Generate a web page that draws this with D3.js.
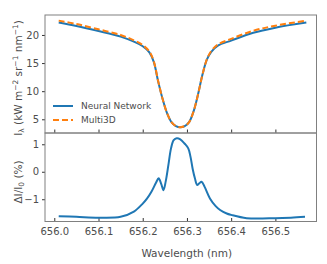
<!DOCTYPE html>
<html>
<head>
<meta charset="utf-8">
<script src="https://cdn.jsdelivr.net/npm/d3@7"></script>
<style>
  body { margin: 0; background: #fff; }
  text { font-family: "DejaVu Sans", sans-serif; fill: #4d4d4d; }
</style>
</head>
<body>
<div class="chart"></div>
<script>
// wavelength grid (nm) for the intensity profiles
var wlProfile = [656.01, 656.05, 656.10, 656.15, 656.18, 656.20, 656.215, 656.225, 656.235, 656.245,
                 656.255, 656.265, 656.275, 656.285, 656.295, 656.305, 656.315, 656.325, 656.335, 656.345,
                 656.355, 656.37, 656.40, 656.45, 656.50, 656.57];
var neuralNet = [22.2, 21.6, 20.7, 19.7, 18.8, 18.0, 16.9, 15.2, 11.7, 8.6,
                 6.1, 4.5, 3.8, 3.6, 3.8, 4.5, 6.4, 9.4, 12.9, 15.6,
                 17.0, 18.1, 19.0, 20.4, 21.3, 22.2];
var multi3d   = [22.55, 21.95, 21.0, 20.0, 19.05, 18.2, 17.05, 15.3, 11.75, 8.6,
                 6.1, 4.5, 3.8, 3.6, 3.8, 4.5, 6.4, 9.4, 12.9, 15.65,
                 17.15, 18.3, 19.3, 20.75, 21.65, 22.55];

// relative difference (%) on its own grid
var wlDiff = [656.01, 656.05, 656.10, 656.15, 656.18, 656.20, 656.21, 656.22, 656.23, 656.236,
              656.242, 656.247, 656.252, 656.258, 656.264, 656.27, 656.277, 656.285, 656.295, 656.303,
              656.308, 656.313, 656.318, 656.323, 656.328, 656.333, 656.34, 656.352, 656.365, 656.375,
              656.39, 656.40, 656.435, 656.50, 656.535, 656.567];
var relDiff = [-1.62, -1.64, -1.67, -1.64, -1.45, -1.16, -0.97, -0.72, -0.40, -0.24,
               -0.45, -0.67, -0.35, 0.24, 0.85, 1.15, 1.22, 1.18, 1.02, 0.85,
               0.55, 0.10, -0.24, -0.48, -0.42, -0.36, -0.55, -0.97, -1.25, -1.39,
               -1.52, -1.57, -1.69, -1.69, -1.67, -1.64];

var xTicks = [656.0, 656.1, 656.2, 656.3, 656.4, 656.5];
var topTicks = [5, 10, 15, 20];
var botTicks = [-1, 0, 1];
var seriesNames = ["Neural Network", "Multi3D"];

var W = 327, H = 264;
var left = 45, right = 316.5, top1 = 15, mid = 133, bot2 = 221.5;
var blue = "#1f77b4", orange = "#ff7f0e", spine = "#808080";

var svg = d3.select(".chart").append("svg")
            .attr("width", W)
            .attr("height", H);

var x = d3.scaleLinear().domain([655.979, 656.593]).range([left, right]);
var yTop = d3.scaleLinear().domain([2.56, 23.55]).range([mid, top1]);
var yBot = d3.scaleLinear().domain([-1.81, 1.41]).range([bot2, mid]);

function drawAxes(y, yt, y0, y1, showLabels) {
  var gx = svg.append("g")
     .attr("transform", "translate(0," + y0 + ")")
     .call(d3.axisBottom(x).tickValues(xTicks).tickSizeInner(-3.5).tickSizeOuter(0)
             .tickFormat(showLabels ? d3.format(".1f") : ""));
  gx.select(".domain").remove();
  gx.selectAll(".tick line").attr("stroke", "#333");
  gx.selectAll(".tick text").attr("dy", "1.05em").style("font-size", "10px").attr("fill", "#4d4d4d");

  var gy = svg.append("g")
     .attr("transform", "translate(" + left + ",0)")
     .call(d3.axisLeft(y).tickValues(yt).tickSizeInner(3).tickSizeOuter(0)
             .tickFormat(function(d) { return d < 0 ? "\u2212" + Math.abs(d) : d; }));
  gy.select(".domain").remove();
  gy.selectAll(".tick line").attr("stroke", "#333");
  gy.selectAll(".tick text").style("font-size", "10px").attr("fill", "#4d4d4d");

  svg.append("rect")
     .attr("x", left).attr("y", y1)
     .attr("width", right - left).attr("height", y0 - y1)
     .attr("fill", "none").attr("stroke", spine).attr("stroke-width", 1);
}

drawAxes(yTop, topTicks, mid, top1, false);
drawAxes(yBot, botTicks, bot2, mid, true);

var lineTop = function(vals) {
  return d3.line().curve(d3.curveCatmullRom.alpha(0.5))
           .x(function(d, i) { return x(wlProfile[i]); })
           .y(function(d) { return yTop(d); })(vals);
};

svg.append("path")
   .attr("d", lineTop(neuralNet))
   .attr("fill", "none").attr("stroke", blue).attr("stroke-width", 2);

svg.append("path")
   .attr("d", lineTop(multi3d))
   .attr("fill", "none").attr("stroke", orange).attr("stroke-width", 2)
   .attr("stroke-dasharray", "6,3");

svg.append("path")
   .attr("d", d3.line().curve(d3.curveCatmullRom.alpha(0.5))
                .x(function(d, i) { return x(wlDiff[i]); })
                .y(function(d) { return yBot(d); })(relDiff))
   .attr("fill", "none").attr("stroke", blue).attr("stroke-width", 2);

// legend
var legend = svg.append("g").attr("transform", "translate(53,106)");
seriesNames.forEach(function(name, i) {
  legend.append("line")
        .attr("x1", 0).attr("x2", 20).attr("y1", i * 14).attr("y2", i * 14)
        .attr("stroke", i === 0 ? blue : orange).attr("stroke-width", 2)
        .attr("stroke-dasharray", i === 0 ? null : "6,3");
  legend.append("text")
        .attr("x", 28).attr("y", i * 14).attr("dy", "0.35em")
        .style("font-size", "9px").text(name);
});

// axis labels
svg.append("text")
   .attr("x", (left + right) / 2 + 6).attr("y", 257)
   .attr("text-anchor", "middle").style("font-size", "10.5px")
   .text("Wavelength (nm)");

var yl1 = svg.append("text")
   .attr("transform", "translate(22," + 78 + ") rotate(-90)")
   .attr("text-anchor", "middle").style("font-size", "10.5px");
yl1.append("tspan").text("I");
yl1.append("tspan").attr("dy", 2).style("font-size", "7.5px").text("\u03bb");
yl1.append("tspan").attr("dy", -2).text(" (kW m");
yl1.append("tspan").attr("dy", -4).style("font-size", "7.5px").text("\u22122");
yl1.append("tspan").attr("dy", 4).text(" sr");
yl1.append("tspan").attr("dy", -4).style("font-size", "7.5px").text("\u22121");
yl1.append("tspan").attr("dy", 4).text(" nm");
yl1.append("tspan").attr("dy", -4).style("font-size", "7.5px").text("\u22121");
yl1.append("tspan").attr("dy", 4).text(")");

var yl2 = svg.append("text")
   .attr("transform", "translate(22," + 182 + ") rotate(-90)")
   .attr("text-anchor", "middle").style("font-size", "10.5px");
yl2.append("tspan").text("\u0394I/I");
yl2.append("tspan").attr("dy", 2).style("font-size", "7.5px").text("0");
yl2.append("tspan").attr("dy", -2).text(" (%)");
</script>
</body>
</html>
